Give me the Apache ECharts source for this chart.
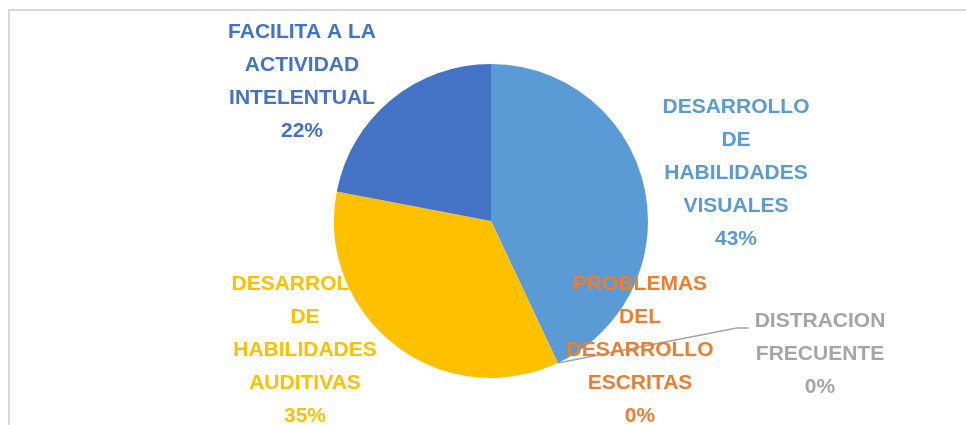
<!DOCTYPE html>
<html>
<head>
<meta charset="utf-8">
<script src="https://cdn.jsdelivr.net/npm/echarts@6/dist/echarts.min.js"></script>
<style>
html,body{margin:0;padding:0;background:#fff;}
#pie{width:966px;height:425px;}
</style>
</head>
<body>
<div id="pie"></div>
<script>
// datos del grafico
var nombres = [
	'DESARROLLO\nDE\nHABILIDADES\nVISUALES',
	'PROBLEMAS\nDEL\nDESARROLLO\nESCRITAS',
	'DISTRACION\nFRECUENTE',
	'DESARROLLO\nDE\nHABILIDADES\nAUDITIVAS',
	'FACILITA A LA\nACTIVIDAD\nINTELENTUAL'
];
var valores = [43, 0, 0, 35, 22];
var colores = ['#5B9BD5', '#ED7D31', '#A5A5A5', '#FFC000', '#4472C4'];

// donde va cada etiqueta (centro del bloque)
var posEtiquetas = [[736, 173], [640, 350], [820, 354], [305, 350], [302, 82]];

var myChart = echarts.init(document.getElementById('pie'));

var datos = [];
for (var i = 0; i < valores.length; i++) {
	datos.push({
		name: nombres[i],
		value: valores[i],
		itemStyle: {color: colores[i]},
		label: {color: colores[i]},
		labelLine: {show: i == 2}
	});
}

var option = {
	animation: false,
	graphic: [{
		type: 'polyline',
		shape: {points: [[9, 425], [9, 10], [966, 10]]},
		style: {stroke: '#d9d9d9', lineWidth: 2, fill: null},
		silent: true
	}],
	series: [{
		type: 'pie',
		center: [491, 221],
		radius: 157,
		startAngle: 90,
		clockwise: true,
		avoidLabelOverlap: false,
		data: datos,
		itemStyle: {borderWidth: 0},
		label: {
			show: true,
			position: 'outside',
			formatter: '{b}\n{d}%',
			fontFamily: 'Liberation Sans, Arial, sans-serif',
			fontWeight: 'bold',
			fontSize: 21,
			lineHeight: 33,
			align: 'center'
		},
		labelLine: {
			lineStyle: {color: '#A5A5A5', width: 1.5},
			smooth: false
		},
		emphasis: {disabled: true},
		labelLayout: function(params){
			var p = posEtiquetas[params.dataIndex];
			var res = {x: p[0], y: p[1], align: 'center', verticalAlign: 'middle'};
			// solo la de distraccion lleva linea guia
			if (params.dataIndex == 2 && params.labelLinePoints) {
				var izq = p[0] - params.labelRect.width / 2;
				var yLinea = p[1] - 26;
				res.labelLinePoints = [params.labelLinePoints[0], [izq - 18, yLinea], [izq - 6, yLinea]];
			}
			return res;
		}
	}]
};
myChart.setOption(option);
</script>
</body>
</html>
